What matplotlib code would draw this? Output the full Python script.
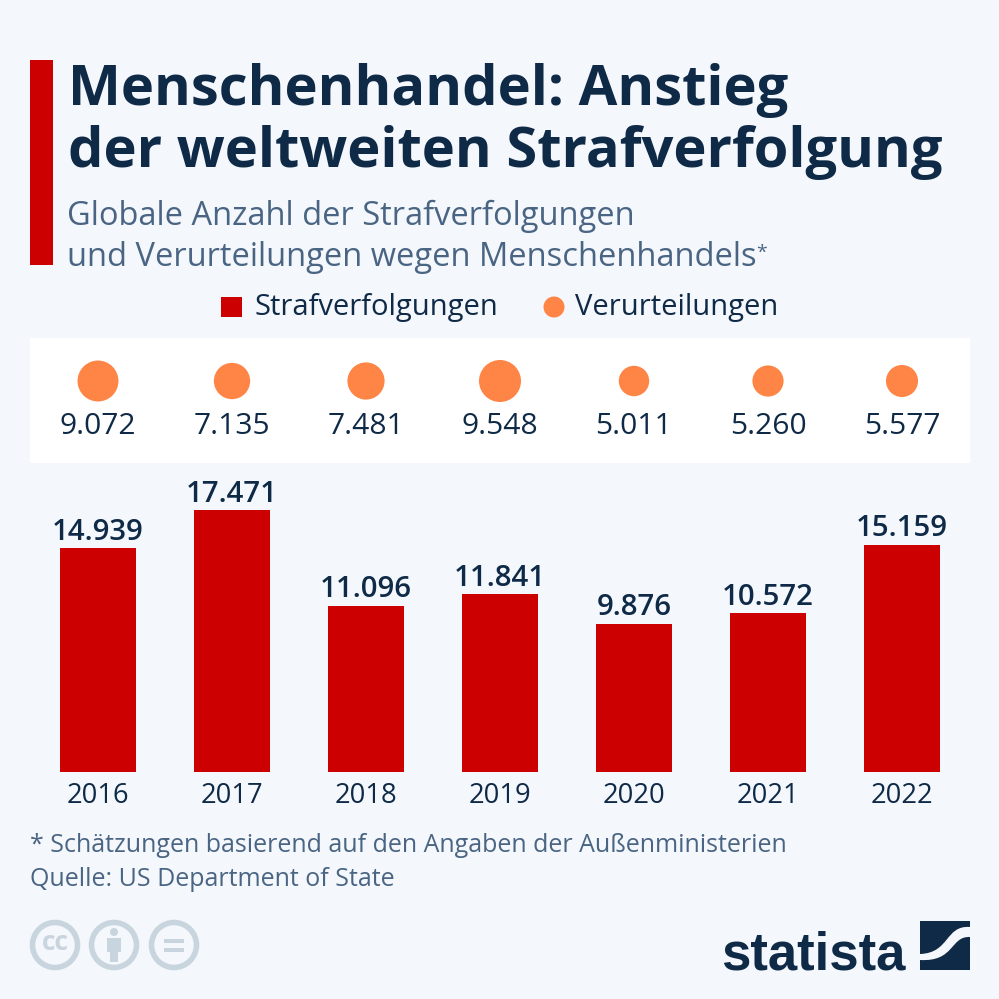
import matplotlib
matplotlib.use("Agg")
import matplotlib.pyplot as plt
from matplotlib.patches import Rectangle, Circle, PathPatch
from matplotlib.path import Path

# Data
years = ["2016", "2017", "2018", "2019", "2020", "2021", "2022"]
prosecutions = [14939, 17471, 11096, 11841, 9876, 10572, 15159]
convictions = [9072, 7135, 7481, 9548, 5011, 5260, 5577]
prosecution_labels = ["14.939", "17.471", "11.096", "11.841", "9.876", "10.572", "15.159"]
conviction_labels = ["9.072", "7.135", "7.481", "9.548", "5.011", "5.260", "5.577"]

BG = "#f4f7fb"
NAVY = "#0f2a47"
SLATE = "#4a6583"
RED = "#cc0000"
ORANGE = "#ff8547"
GREY = "#c9d5de"

plt.rcParams["font.family"] = ["Open Sans", "DejaVu Sans"]

fig = plt.figure(figsize=(9.99, 9.99), dpi=100, facecolor=BG)

# Full page axes in pixels, for everything around the chart
page = fig.add_axes([0, 0, 1, 1], zorder=0)
page.set_xlim(0, 999)
page.set_ylim(999, 0)
page.axis("off")

page.add_patch(Rectangle((30, 60), 23, 205, color=RED, lw=0))
page.text(68, 90, "Menschenhandel: Anstieg", fontsize=40.4, fontweight="bold", color=NAVY, va="center")
page.text(68, 152, "der weltweiten Strafverfolgung", fontsize=40.4, fontweight="bold", color=NAVY, va="center")
page.text(67, 216, "Globale Anzahl der Strafverfolgungen", fontsize=23.5, color=SLATE, va="center")
page.text(67, 257, "und Verurteilungen wegen Menschenhandels", fontsize=23.5, color=SLATE, va="center")
page.text(756, 253, "*", fontsize=14, color=SLATE, va="center")

# Legend
page.add_patch(Rectangle((221, 297), 21, 20, color=RED, lw=0))
page.text(254, 308, "Strafverfolgungen", fontsize=21, color=NAVY, va="center")
page.add_patch(Circle((554, 307), 10.5, color=ORANGE, lw=0))
page.text(575, 308, "Verurteilungen", fontsize=21, color=NAVY, va="center")

# White band behind the bubbles
page.add_patch(Rectangle((30, 338), 940, 125, color="white", lw=0))

# Footer
page.text(30, 845, "* Schätzungen basierend auf den Angaben der Außenministerien", fontsize=18, color=SLATE, va="center")
page.text(30, 880, "Quelle: US Department of State", fontsize=18, color=SLATE, va="center")

# CC icons
for cx in (55, 114, 174):
    page.add_patch(Circle((cx, 945), 22.5, fc="none", ec=GREY, lw=4))
page.text(55, 943, "cc", fontsize=19, fontweight="bold", color=GREY, ha="center", va="center")
page.add_patch(Circle((114, 932), 4, color=GREY, lw=0))
page.add_patch(Rectangle((107, 938), 14, 14, color=GREY, lw=0))
page.add_patch(Rectangle((110, 950), 8, 12, color=GREY, lw=0))
page.add_patch(Rectangle((164, 939), 20, 4, color=GREY, lw=0))
page.add_patch(Rectangle((164, 948), 20, 4, color=GREY, lw=0))

# Logo
page.text(813, 969, "statista", fontsize=38, fontweight="bold", color=NAVY, ha="center", va="baseline",
          family=["Liberation Sans", "Open Sans"])
page.add_patch(Rectangle((920, 921), 50, 49, color=NAVY, lw=0))
swoosh = Path(
    [(970, 927), (945, 925), (950, 953), (920, 954), (920, 960), (955, 962), (950, 936), (970, 937), (970, 927)],
    [Path.MOVETO, Path.CURVE4, Path.CURVE4, Path.CURVE4, Path.LINETO, Path.CURVE4, Path.CURVE4, Path.CURVE4, Path.CLOSEPOLY],
)
page.add_patch(PathPatch(swoosh, fc=BG, lw=0))

# Chart axes: x is shared by bubbles and bars, years are 134 px apart
left, right, top, bottom = 30, 970, 338, 772
ax = fig.add_axes([left / 999, 1 - bottom / 999, (right - left) / 999, (bottom - top) / 999], zorder=1)
ax.patch.set_alpha(0)
ax.set_xlim((left - 98) / 134, (right - 98) / 134)
ax.set_ylim(0, (bottom - top) / 0.015)
for s in ax.spines.values():
    s.set_visible(False)
ax.set_yticks([])

x = list(range(len(years)))
ax.bar(x, prosecutions, width=76 / 134, color=RED, lw=0)
for i, v in enumerate(prosecutions):
    ax.annotate(prosecution_labels[i], (i, v), xytext=(0, 1), textcoords="offset points",
                ha="center", va="bottom", fontsize=21.2, fontweight="semibold", color=NAVY)

ax.set_xticks(x, years)
ax.tick_params(axis="x", length=0, pad=7, labelsize=19.7, labelcolor=NAVY)

# Bubbles, area follows the value
bubble_y = (bottom - 381) / 0.015
label_y = (bottom - 427) / 0.015
ax.scatter(x, [bubble_y] * len(x), s=[c * 0.0958 for c in convictions], color=ORANGE, lw=0, clip_on=False)
for i, label in enumerate(conviction_labels):
    ax.text(i, label_y, label, ha="center", va="center", fontsize=21.6, color=NAVY)

fig.savefig("out.png", dpi=100, facecolor=BG)
